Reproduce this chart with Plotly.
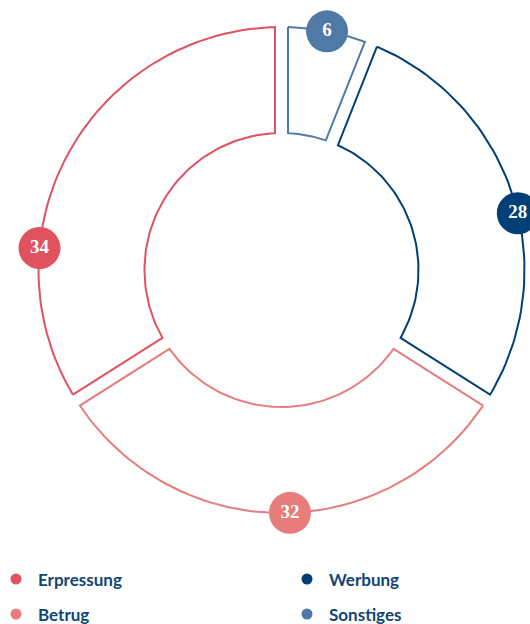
import math
import plotly.graph_objects as go

categories = ["Erpressung", "Betrug", "Werbung", "Sonstiges"]
values = [34, 32, 28, 6]
colors = ["#e0525f", "#e87c7b", "#004077", "#5079a6"]

# label bubbles are not all on the slice middle in the original
label_shift = [-23.6, -2.0, 4.5, 0.0]

W, H = 530, 624
CX, CY = 281.5, 270
R_OUT, R_IN = 243, 137
GAP = 6.5


def pt(r, a):
    a = math.radians(a)
    return CX + r * math.sin(a), CY - r * math.cos(a)


def arc(r, a0, a1, n=60):
    xs, ys = [], []
    for k in range(n + 1):
        x, y = pt(r, a0 + (a1 - a0) * k / n)
        xs.append(x)
        ys.append(y)
    return xs, ys


fig = go.Figure()

total = sum(values)
end = 360.0
for name, v, c, sh in zip(categories, values, colors, label_shift):
    start = end - v / total * 360
    do = math.degrees(math.asin(GAP / R_OUT))
    di = math.degrees(math.asin(GAP / R_IN))
    xo, yo = arc(R_OUT, start + do, end - do)
    xi, yi = arc(R_IN, end - di, start + di)
    xs = xo + xi + [xo[0]]
    ys = yo + yi + [yo[0]]
    fig.add_trace(go.Scatter(x=xs, y=ys, mode="lines", fill="toself", fillcolor="white",
                             line=dict(color=c, width=2), hoverinfo="skip", showlegend=False))
    lx, ly = pt(R_OUT, (start + end) / 2 + sh)
    fig.add_trace(go.Scatter(x=[lx], y=[ly], mode="markers+text", text=[str(v)],
                             marker=dict(size=42, color=c, line=dict(width=0)),
                             textposition="middle center", cliponaxis=False,
                             textfont=dict(family="Liberation Serif", size=19, color="white", weight="bold"),
                             hoverinfo="skip", showlegend=False))
    end = start

# legend, two columns
leg_x = [16, 16, 307, 307]
leg_y = [579, 614, 579, 614]
for name, c, x, y in zip(categories, colors, leg_x, leg_y):
    fig.add_trace(go.Scatter(x=[x], y=[y], mode="markers", marker=dict(size=11, color=c),
                             hoverinfo="skip", showlegend=False))
    fig.add_annotation(x=x + 20, y=y, text=name, showarrow=False, xanchor="left", yanchor="middle",
                       font=dict(family="Lato", size=17, color="#0f4678", weight="bold"))

fig.update_xaxes(range=[0, W], visible=False, fixedrange=True)
fig.update_yaxes(range=[H, 0], visible=False, fixedrange=True)
fig.update_layout(width=W, height=H, margin=dict(l=0, r=0, t=0, b=0),
                  paper_bgcolor="white", plot_bgcolor="white")
# drop the default body margin so the figure sits at the page corner
fig.write_html("out.html", config={"displayModeBar": False},
               post_script="document.body.style.margin='0';")
